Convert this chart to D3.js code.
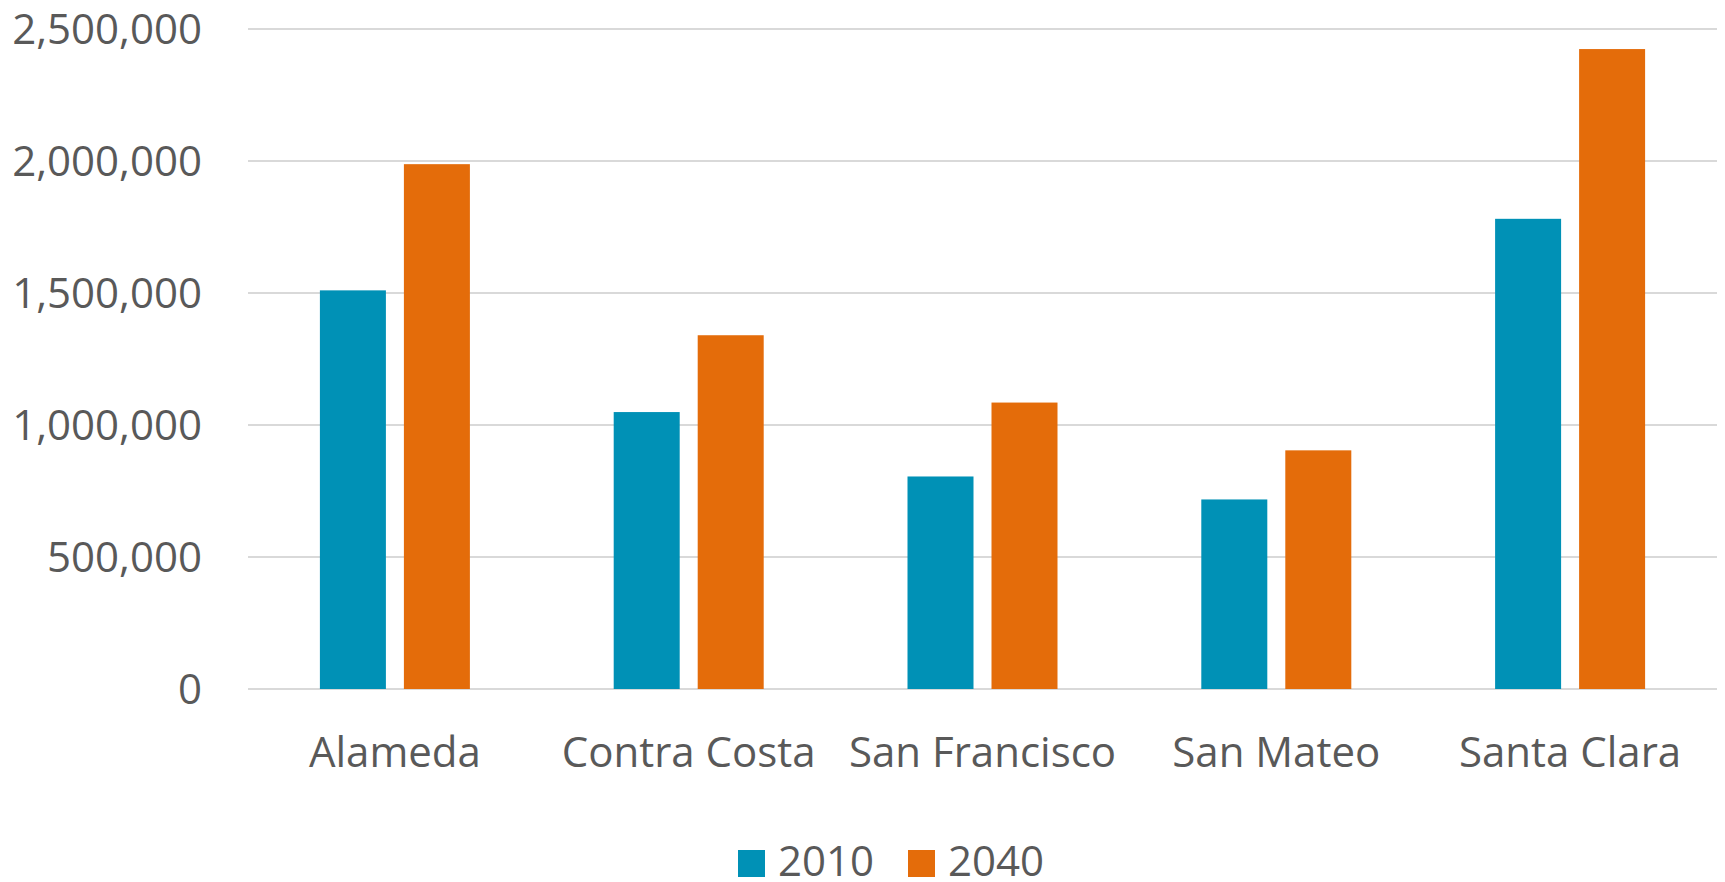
<!doctype html>
<html>
<head>
    <meta charset="utf-8"/>
    <style>
        html, body { margin: 0; padding: 0; background: #fff; }
        svg { display: block; }
        text { font-family: "Open Sans", sans-serif; fill: #595959; }
    </style>
    <script src="https://d3js.org/d3.v7.min.js"></script>
</head>
<body>

<svg width="1725" height="882"></svg>

<script>

    // county populations
    var counties = ["Alameda", "Contra Costa", "San Francisco", "San Mateo", "Santa Clara"];
    var years = ["2010", "2040"];
    var pop2010 = [1510000, 1049000, 805000, 718000, 1781000];
    var pop2040 = [1988000, 1340000, 1085000, 904000, 2424000];
    var yTicks = [0, 500000, 1000000, 1500000, 2000000, 2500000];
    var colors = ["#0091b6", "#e46c0a"];

    var svg = d3.select("svg");
    var format = d3.format(",d");

    // plot area (note: "top" is reserved on window, so use other names)
    var plotLeft = 248, plotRight = 1717, plotTop = 29, plotBottom = 689;

    var x = d3.scaleBand()
        .domain(counties)
        .range([plotLeft, plotRight])
        .paddingInner(0)
        .paddingOuter(0);

    // two bars of 66px with an 18px gap inside each ~294px band
    var barW = 66, gap = 18;
    var x1 = d3.scaleOrdinal()
        .domain(years)
        .range([-(barW + gap / 2), gap / 2]);

    var y = d3.scaleLinear()
        .domain([0, 2500000])
        .range([plotBottom, plotTop]);

    // gridlines
    svg.append("g")
        .selectAll("line")
        .data(yTicks)
        .join("line")
        .attr("x1", plotLeft)
        .attr("x2", plotRight)
        .attr("y1", function(d) { return Math.round(y(d)); })
        .attr("y2", function(d) { return Math.round(y(d)); })
        .attr("stroke", "#d9d9d9")
        .attr("stroke-width", 2);

    // y labels
    svg.append("g")
        .selectAll("text")
        .data(yTicks)
        .join("text")
        .attr("x", 202)
        .attr("y", function(d) { return y(d); })
        .attr("dy", "0.36em")
        .attr("text-anchor", "end")
        .attr("font-size", 42)
        .text(function(d) { return format(d); });

    var rows = counties.map(function(c, i) {
        return {county: c, values: [pop2010[i], pop2040[i]]};
    });

    var groups = svg.append("g")
        .selectAll("g")
        .data(rows)
        .join("g")
        .attr("transform", function(d) { return "translate(" + (x(d.county) + x.bandwidth() / 2) + ",0)"; });

    groups.selectAll("rect")
        .data(function(d) { return d.values.map(function(v, j) { return {year: years[j], value: v, j: j}; }); })
        .join("rect")
        .attr("x", function(d) { return x1(d.year); })
        .attr("y", function(d) { return y(d.value); })
        .attr("width", barW)
        .attr("height", function(d) { return y(0) - y(d.value); })
        .attr("fill", function(d) { return colors[d.j]; });

    // category labels
    svg.append("g")
        .selectAll("text")
        .data(counties)
        .join("text")
        .attr("x", function(d) { return x(d) + x.bandwidth() / 2; })
        .attr("y", 767)
        .attr("text-anchor", "middle")
        .attr("font-size", 42)
        .text(function(d) { return d; });

    // legend
    var legendX = [738, 908];
    var legend = svg.append("g")
        .selectAll("g")
        .data(years)
        .join("g")
        .attr("transform", function(d, i) { return "translate(" + legendX[i] + ",0)"; });

    legend.append("rect")
        .attr("x", 0)
        .attr("y", 850)
        .attr("width", 27)
        .attr("height", 27)
        .attr("fill", function(d, i) { return colors[i]; });

    legend.append("text")
        .attr("x", 40)
        .attr("y", 876)
        .attr("font-size", 42)
        .text(function(d) { return d; });

</script>

</body>
</html>
